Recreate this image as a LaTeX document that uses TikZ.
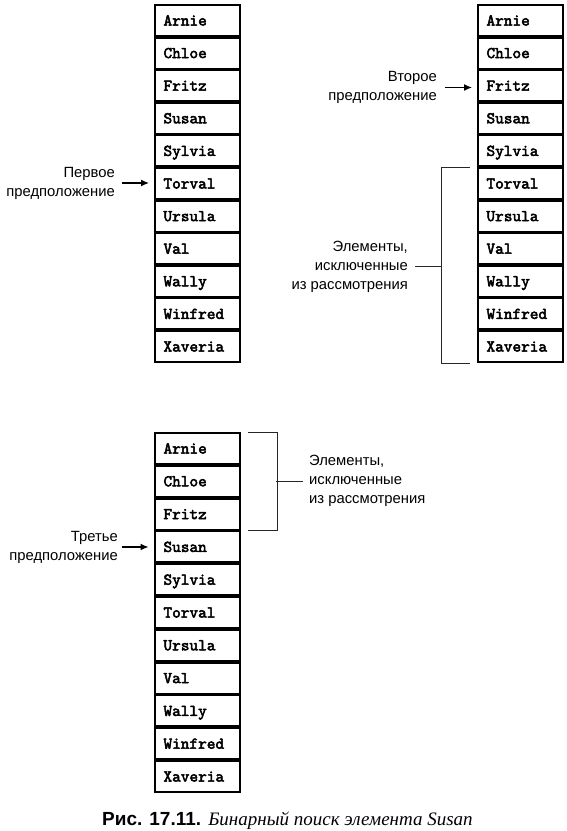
\documentclass[tikz,border=0pt]{standalone}
\usepackage{fontspec}
\setmainfont{Liberation Sans}
\newfontfamily\serifit{Liberation Serif}
\newfontfamily\monob[FakeBold=3]{lmmono10-regular.otf}
\usetikzlibrary{arrows.meta}
\tikzset{
  cell/.style={draw, line width=2pt, minimum height=31pt, text width=67pt,
    inner xsep=9pt, inner ysep=0pt, align=left, text height=10pt, text depth=0pt,
    font=\monob\fontsize{16.5}{18}\selectfont},
  lbl/.style={inner sep=0pt, font=\fontsize{14.8}{19}\selectfont},
  arr/.style={line width=1.3pt, -{Latex[length=8pt,width=7pt]}},
  brk/.style={line width=0.8pt, black!85},
}
\begin{document}
\begin{tikzpicture}[x=1pt,y=-1pt]
\useasboundingbox (0,0) rectangle (567,831);
% columns
\foreach \n [count=\i from 0] in {Arnie,Chloe,Fritz,Susan,Sylvia,Torval,Ursula,Val,Wally,Winfred,Xaveria}{
  \node[cell] (a\i) at (197,20.5+32.6*\i) {\n};
  \node[cell] (b\i) at (520,20.5+32.6*\i) {\n};
  \node[cell] (c\i) at (197,448.5+32.8*\i) {\n};
}
% first guess
\node[lbl, align=right, anchor=east] (g1) at (115,183) {Первое\\предположение};
\draw[arr, shorten <=7pt, shorten >=4.5pt] (g1.east) -- (g1.east -| a5.west);
% second guess
\node[lbl, align=right, anchor=east] (g2) at (437,87.5) {Второе\\предположение};
\draw[arr, shorten <=8pt, shorten >=4.5pt] (g2.east) -- (g2.east -| b2.west);
% excluded (right)
\draw[brk] ([xshift=-6.5pt]b5.north west) -- ([xshift=-35.5pt]b5.north west)
  -- ([xshift=-35.5pt]b10.south west) -- ([xshift=-6.5pt]b10.south west);
\coordinate (rm) at (442,266);
\node[lbl, align=right, anchor=east] (e1) at (408,267) {Элементы,\\исключенные\\из рассмотрения};
\draw[brk, shorten <=7pt] (e1.east |- rm) -- (rm);
% excluded (bottom)
\draw[brk] ([xshift=7.5pt]c0.north east) -- ([xshift=36.5pt]c0.north east)
  -- ([xshift=36.5pt]c2.south east) -- ([xshift=7.5pt]c2.south east);
\coordinate (bm) at (276,481);
\node[lbl, align=left, anchor=west] (e2) at (309,481) {Элементы,\\исключенные\\из рассмотрения};
\draw[brk, shorten >=6pt] (bm) -- (bm -| e2.west);
% third guess
\node[lbl, align=right, anchor=east] (g3) at (118,547) {Третье\\предположение};
\draw[arr, shorten <=4pt, shorten >=5pt] (g3.east) -- (g3.east -| c3.west);
% caption
\node[anchor=base west, inner sep=0pt] (cap) at (102,825)
  {\fontsize{19}{21}\selectfont\bfseries Рис. 17.11. \serifit\mdseries\itshape Бинарный поиск элемента Susan};
\end{tikzpicture}
\end{document}
